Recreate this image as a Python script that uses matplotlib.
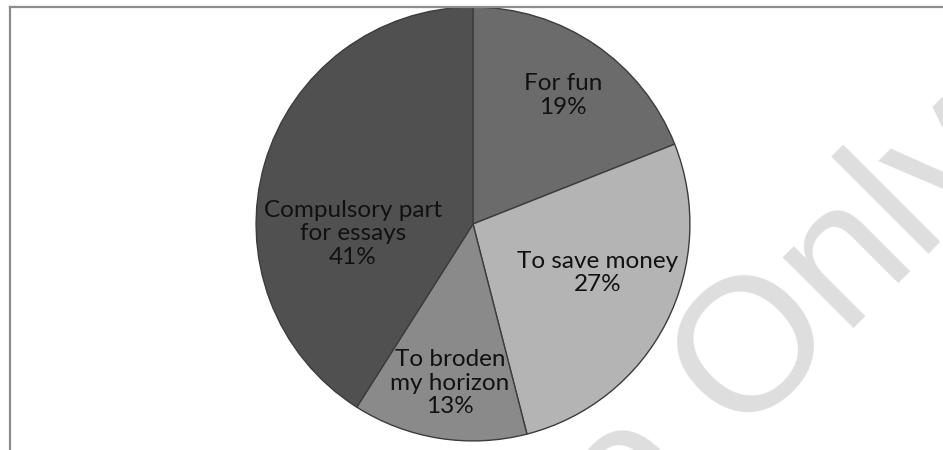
import matplotlib
matplotlib.use('Agg')
import matplotlib.pyplot as plt
from matplotlib.lines import Line2D

labels = ['For fun', 'To save money', 'To broden\nmy horizon', 'Compulsory part\nfor essays']
shares = [19, 27, 13, 41]
colors = ['#6b6b6b', '#b4b4b4', '#8a8a8a', '#505050']
# label positions inside the pie (axes fraction)
label_pos = [(0.707, 0.795), (0.785, 0.388), (0.447, 0.135), (0.224, 0.478)]

W, H = 943, 450
fig = plt.figure(figsize=(W / 100, H / 100), dpi=100)
fig.patch.set_facecolor('white')

# watermark
fig.text(246 / W, 1 - 935 / H, 'Sample Only', fontsize=137, color='#dedede',
         family=['Liberation Sans', 'DejaVu Sans'], rotation=45,
         rotation_mode='anchor', ha='left', va='baseline', zorder=0)

# frame lines (top and left)
fig.add_artist(Line2D([9.5 / W, 1], [1 - 6.5 / H, 1 - 6.5 / H], color='#8c8c8c', lw=1.6))
fig.add_artist(Line2D([9.5 / W, 9.5 / W], [1 - 6.5 / H, 0], color='#8c8c8c', lw=1.6))

cx, cy, r = 473, 224, 218
ax = fig.add_axes([(cx - r) / W, 1 - (cy + r) / H, 2 * r / W, 2 * r / H])

wedges, _ = ax.pie(shares, colors=colors, startangle=90, counterclock=False, radius=1,
                   wedgeprops=dict(edgecolor='#3c3c3c', linewidth=1.0))
# light highlight along the top edge of the lightest slice
wedges[1].set_edgecolor('#3c3c3c')
ax.set_xlim(-1.005, 1.005)
ax.set_ylim(-1.005, 1.005)
ax.axis('off')

for lab, val, (x, y) in zip(labels, shares, label_pos):
    ax.text(x, y, f'{lab}\n{val}%', transform=ax.transAxes, ha='center', va='center',
            fontsize=17.5, color='#111111', linespacing=1.15,
            family=['Lato', 'DejaVu Sans'])

fig.savefig('out.png', dpi=100, facecolor='white')
